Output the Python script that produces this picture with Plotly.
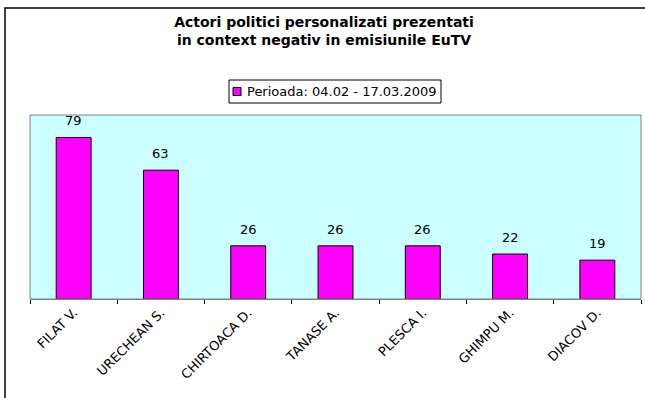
import plotly.graph_objects as go

# Data
categories = ["FILAT V.", "URECHEAN S.", "CHIRTOACA D.", "TANASE A.",
              "PLESCA I.", "GHIMPU M.", "DIACOV D."]
values = [79, 63, 26, 26, 26, 22, 19]
series_name = "Perioada: 04.02 - 17.03.2009"
title_lines = ["Actori politici personalizati prezentati",
               "in context negativ in emisiunile EuTV"]

FONT = "Tahoma, DejaVu Sans, sans-serif"
BAR_COLOR = "#FF00FF"

# Plot-area geometry in pixels (645 x 398 canvas)
W, H = 645, 398
L, R, T, B = 30, 641, 115, 299
pw, ph = R - L, B - T


def px_x(x):
    return (x - L) / pw


def px_y(y):
    return (B - y) / ph


fig = go.Figure(
    go.Bar(
        x=categories,
        y=values,
        name=series_name,
        width=0.4,
        marker=dict(color=BAR_COLOR, line=dict(color="#000000", width=1)),
        showlegend=False,
    )
)

# value labels above each bar
annotations = [
    dict(x=c, y=v, xref="x", yref="y", text=str(v), showarrow=False,
         yanchor="bottom", yshift=7,
         font=dict(family=FONT, size=13, color="#000000"))
    for c, v in zip(categories, values)
]

# legend: framed box with a small square swatch and the series name
leg_x0, leg_x1, leg_y0, leg_y1 = 229, 441, 80, 103
sw = 8
sw_x0, sw_yc = 233, (leg_y0 + leg_y1) / 2
annotations.append(
    dict(x=px_x(sw_x0 + sw + 4), y=px_y(sw_yc), xref="paper", yref="paper",
         text=series_name, showarrow=False, xanchor="left", yanchor="middle",
         font=dict(family=FONT, size=13, color="#000000"))
)

shapes = [
    dict(type="rect", xref="paper", yref="paper",
         x0=px_x(leg_x0), x1=px_x(leg_x1), y0=px_y(leg_y1), y1=px_y(leg_y0),
         line=dict(color="#000000", width=1), fillcolor="#FFFFFF"),
    dict(type="rect", xref="paper", yref="paper",
         x0=px_x(sw_x0), x1=px_x(sw_x0 + sw),
         y0=px_y(sw_yc + sw / 2), y1=px_y(sw_yc - sw / 2),
         line=dict(color="#000000", width=1), fillcolor=BAR_COLOR),
    # grey border around the plotting area
    dict(type="rect", xref="paper", yref="paper", x0=0, x1=1, y0=0, y1=1,
         line=dict(color="#808080", width=1), layer="above"),
    # outer chart frame
    dict(type="rect", xref="paper", yref="paper",
         x0=px_x(5), x1=px_x(650), y0=px_y(410), y1=px_y(8),
         line=dict(color="#000000", width=1.5), layer="above"),
]

fig.update_layout(
    width=W,
    height=H,
    margin=dict(l=L, r=W - R, t=T, b=H - B),
    paper_bgcolor="#FFFFFF",
    plot_bgcolor="#CCFFFF",
    font=dict(family=FONT, size=12, color="#000000"),
    showlegend=False,
    title=dict(
        text="<b>" + "<br>".join(title_lines) + "</b>",
        x=324 / W,
        xref="container",
        xanchor="center",
        y=1 - 27 / H,
        yref="container",
        yanchor="middle",
        font=dict(family=FONT, size=14, color="#000000"),
    ),
    bargap=0.6,
    xaxis=dict(
        showline=True,
        linecolor="#808080",
        linewidth=1,
        ticks="outside",
        tickson="boundaries",
        ticklen=4,
        tickcolor="#000000",
        tickangle=-45,
        tickfont=dict(family=FONT, size=13),
        showgrid=False,
    ),
    yaxis=dict(
        range=[0, 90],
        showticklabels=False,
        showgrid=False,
        zeroline=False,
        ticks="",
    ),
    annotations=annotations,
    shapes=shapes,
)

fig.write_html("out.html")
